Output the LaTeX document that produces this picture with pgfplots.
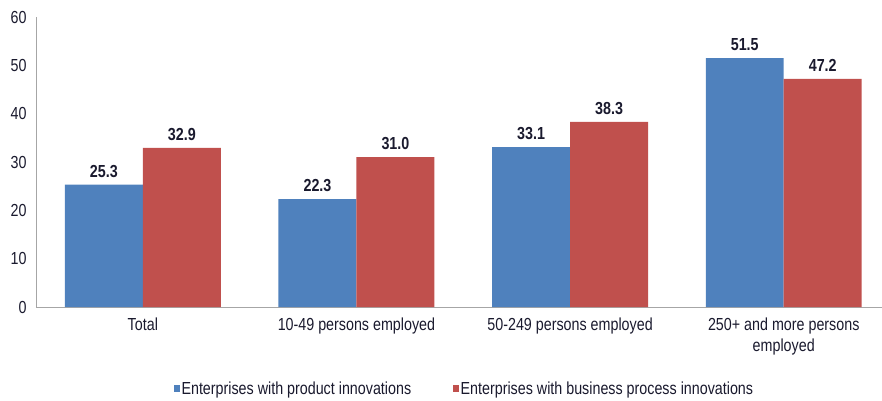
\documentclass[border=0pt]{standalone}
\usepackage{pgfplots}
\pgfplotsset{compat=1.18}
\usepackage{fontspec}
\setmainfont[FakeStretch=0.82]{Liberation Sans}
\definecolor{prodblue}{HTML}{4F81BD}
\definecolor{procred}{HTML}{C0504D}
\definecolor{axgray}{HTML}{A6A6A6}
\definecolor{txt}{HTML}{1A1A2E}
\newcommand\chartfont{\fontsize{17.5}{21}\selectfont}

\begin{document}
\begin{tikzpicture}
\begin{axis}[
    scale only axis,
    width=846bp, height=290bp,
    xmin=-0.5, xmax=3.46,
    ymin=0, ymax=60,
    ytick={0,10,...,60},
    xtick=data,
    xticklabels={Total,10-49 persons employed,50-249 persons employed,{250+ and more persons\\employed}},
    xticklabel style={align=center, yshift=-7bp, text=txt, font=\chartfont},
    yticklabel style={xshift=-6bp, text=txt, font=\chartfont},
    /pgf/number format/assume math mode=true,
    major tick length=0pt,
    axis x line*=bottom, axis y line*=left,
    axis line style={axgray, line width=0.9bp, -},
    ybar=0pt,
    bar width=0.365,
    nodes near coords,
    nodes near coords style={font=\bfseries\chartfont, text=txt, yshift=4bp,
        /pgf/number format/fixed, /pgf/number format/fixed zerofill,
        /pgf/number format/precision=1},
    legend style={at={(axis description cs:0.506,-0.283)}, anchor=center, draw=none,
        legend columns=2, font=\chartfont, text=txt,
        nodes={inner xsep=1.5bp},
        /tikz/every even column/.append style={column sep=40bp},
        cells={anchor=west}},
    legend image code/.code={\fill[#1] (0bp,-2.5bp) rectangle (6.5bp,4.5bp);},
]
\addplot[fill=prodblue, draw=none, bar shift=-0.1825] coordinates {
    (0,25.3) (1,22.3) (2,33.1) (3,51.5)
};
\addplot[fill=procred, draw=none, bar shift=0.1825] coordinates {
    (0,32.9) (1,31.0) (2,38.3) (3,47.2)
};
\legend{Enterprises with product innovations, Enterprises with business process innovations}
\end{axis}
\path (current axis.south west) ++(-36bp,-94bp) coordinate (bbA);
\path (current axis.north east) ++(0bp,17bp) coordinate (bbB);
\pgfresetboundingbox
\useasboundingbox (bbA) rectangle (bbB);
\end{tikzpicture}
\end{document}
